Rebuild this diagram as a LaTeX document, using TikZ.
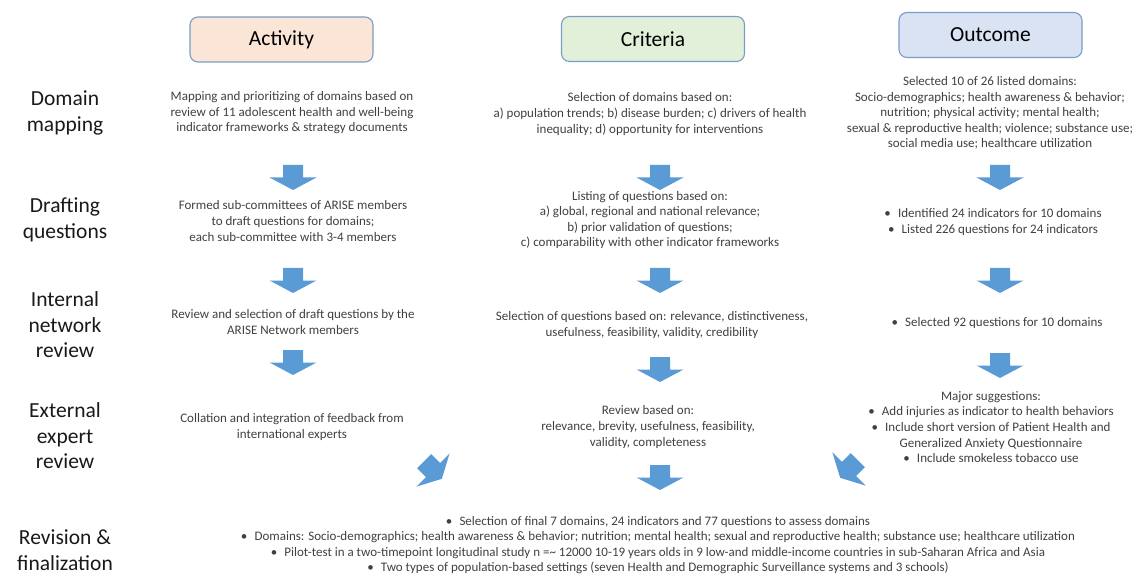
\documentclass[tikz,border=0pt]{standalone}
\usepackage{fontspec}
\setmainfont{Carlito}
\definecolor{actfill}{HTML}{FBE5D6}
\definecolor{crifill}{HTML}{E2F0D9}
\definecolor{outfill}{HTML}{DAE3F3}
\definecolor{headline}{HTML}{7A9CC6}
\definecolor{arrowblue}{HTML}{5B9BD5}
\begin{document}
\begin{tikzpicture}[x=1pt,y=-1pt,
    head/.style={draw=headline,line width=1.1pt,rounded corners=8pt,
      minimum width=183pt,minimum height=45pt,
      font=\fontsize{21.5}{26}\selectfont,text=black},
    stage/.style={font=\fontsize{21.5}{25.5}\selectfont,align=center,text=black!90},
    txt/.style={font=\fontsize{13}{15.6}\selectfont,align=center,text=black!75},
    pics/down/.style={code={%
      \fill[arrowblue] (-10,-12.5) -- (10,-12.5) -- (10,0) -- (23.5,0)
        -- (0,12.5) -- (-23.5,0) -- (-10,0) -- cycle;}}]
      \useasboundingbox (0,0) rectangle (1145,577);
%
      \node[head,fill=actfill] (act) at (281.5,39.5) {Activity};
      \node[head,fill=crifill] (cri) at (653,39) {Criteria};
      \node[head,fill=outfill] (outc) at (990.5,35) {Outcome};
%
      \node[stage] (s1) at (65,113) {Domain\\mapping};
      \node[stage] (s2) at (65,220) {Drafting\\questions};
      \node[stage] (s3) at (65,325) {Internal\\network\\review};
      \node[stage] (s4) at (65,436) {External\\expert\\review};
      \node[stage] (s5) at (65,550) {Revision \&\\finalization};
%
      \node[txt] (a1) at (292,113) {Mapping and prioritizing of domains based on\\
        review of 11 adolescent health and well-being\\
        indicator frameworks \& strategy documents};
      \node[txt] (a2) at (293,221) {Formed sub-committees of ARISE members\\
        to draft questions for domains;\\
        each sub-committee with 3-4 members};
      \node[txt] (a3) at (293,322) {Review and selection of draft questions by the\\
        ARISE Network members};
      \node[txt] (a4) at (292,427) {Collation and integration of feedback from\\
        international experts};
%
      \node[txt] (c1) at (650,114) {Selection of domains based on:\\
        a) population trends; b) disease burden; c) drivers of health\\
        inequality; d) opportunity for interventions};
      \node[txt] (c2) at (650,220) {Listing of questions based on:\\
        a) global, regional and national relevance;\\
        b) prior validation of questions;\\
        c) comparability with other indicator frameworks};
      \node[txt] (c3) at (652,325) {Selection of questions based on: relevance, distinctiveness,\\
        usefulness, feasibility, validity, credibility};
      \node[txt] (c4) at (648,427) {Review based on:\\
        relevance, brevity, usefulness, feasibility,\\
        validity, completeness};
%
      \node[txt] (o1) at (990,113) {Selected 10 of 26 listed domains:\\
        Socio-demographics; health awareness \& behavior;\\
        nutrition; physical activity; mental health;\\
        sexual \& reproductive health; violence; substance use;\\
        social media use; healthcare utilization};
      \node[txt] (o2) at (993,222) {•\hspace{.55em}Identified 24 indicators for 10 domains\\
        •\hspace{.55em}Listed 226 questions for 24 indicators};
      \node[txt] (o3) at (997,323) {•\hspace{.55em}Selected 92 questions for 10 domains};
      \node[txt] (o4) at (991,427) {Major suggestions:\\
        •\hspace{.55em}Add injuries as indicator to health behaviors\\
        •\hspace{.55em}Include short version of Patient Health and\\
        Generalized Anxiety Questionnaire\\
        •\hspace{.55em}Include smokeless tobacco use};
%
      \node[txt] (fin) at (658,545) {•\hspace{.55em}Selection of final 7 domains, 24 indicators and 77 questions to assess domains\\
        •\hspace{.55em}Domains: Socio-demographics; health awareness \& behavior; nutrition; mental health; sexual and reproductive health; substance use; healthcare utilization\\
        •\hspace{.55em}Pilot-test in a two-timepoint longitudinal study n =\textasciitilde{} 12000 10-19 years olds in 9 low-and middle-income countries in sub-Saharan Africa and Asia\\
        •\hspace{.55em}Two types of population-based settings (seven Health and Demographic Surveillance systems and 3 schools)};
%
      \pic at (293,177.5) {down};
      \pic at (293,280.5) {down};
      \pic at (293,362.5) {down};
      \pic at (660,177.5) {down};
      \pic at (660,280.5) {down};
      \pic at (660,369.5) {down};
      \pic at (660,477.5) {down};
      \pic at (1000,177.5) {down};
      \pic at (1000,280.5) {down};
      \pic at (1000,365.5) {down};
      \pic[rotate=45] at (433,470) {down};
      \pic[rotate=-45] at (849,469) {down};
\end{tikzpicture}
\end{document}
